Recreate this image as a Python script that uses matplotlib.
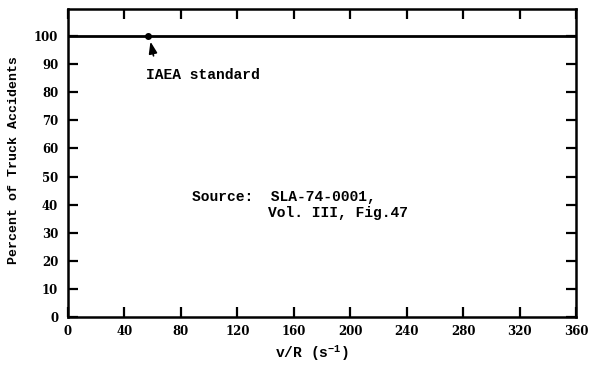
import matplotlib
matplotlib.use("Agg")
import matplotlib.pyplot as plt

# Percent of truck accidents vs v/R
vr = [0, 360]
percent = [100, 100]
iaea_vr = 57
iaea_pct = 100

x_ticks = [0, 40, 80, 120, 160, 200, 240, 280, 320, 360]
y_ticks = [0, 10, 20, 30, 40, 50, 60, 70, 80, 90, 100]

MONO = "Liberation Mono"
plt.rcParams["font.family"] = [MONO, "DejaVu Sans Mono"]
plt.rcParams["mathtext.fontset"] = "custom"
plt.rcParams["mathtext.rm"] = MONO
plt.rcParams["mathtext.it"] = MONO
plt.rcParams["mathtext.bf"] = MONO + ":bold"

fig = plt.figure(figsize=(5.89, 3.65), dpi=100)
ax = fig.add_axes([0.1155, 0.1315, 0.8625, 0.8435])

ax.plot(vr, percent, color="black", lw=2.0, solid_capstyle="butt")
ax.plot([iaea_vr], [iaea_pct], "o", color="black", ms=4)

ax.set_xlim(0, 360)
ax.set_ylim(0, 109.6)
ax.set_xticks(x_ticks)
ax.set_yticks(y_ticks)
ax.tick_params(direction="in", length=7, width=1.6, top=True, right=True)
ax.tick_params(axis="x", pad=6)
ax.tick_params(axis="y", pad=7)
for lab in ax.get_xticklabels() + ax.get_yticklabels():
    lab.set_fontfamily("DejaVu Serif")
    lab.set_fontweight("bold")
    lab.set_fontsize(8.5)
for s in ax.spines.values():
    s.set_linewidth(1.8)

ax.set_xlabel(r"v/R (s$\mathregular{^{-1}}$)", fontsize=10.5, fontweight="bold")
ax.xaxis.set_label_coords(0.48, -0.085)
ax.set_ylabel("Percent of Truck Accidents", fontsize=9.5, fontweight="bold")
ax.yaxis.set_label_coords(-0.095, 0.51)

ax.annotate("", xy=(iaea_vr + 1, iaea_pct - 1), xytext=(iaea_vr + 4, 92),
            arrowprops=dict(arrowstyle="-|>,head_length=0.7,head_width=0.25",
                            color="black", lw=1.2))
ax.text(55.5, 86, "IAEA standard", fontsize=10.5, fontweight="bold",
        va="center", ha="left")
ax.text(88, 42.7, "Source:  SLA-74-0001,", fontsize=10.5, fontweight="bold",
        va="center", ha="left")
ax.text(141.7, 37, "Vol. III, Fig.47", fontsize=10.5, fontweight="bold",
        va="center", ha="left")

fig.savefig("out.png", dpi=100)
